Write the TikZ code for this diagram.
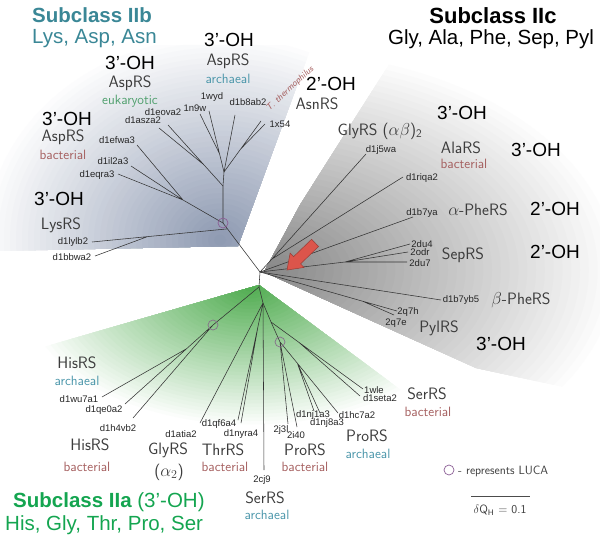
\documentclass[tikz,border=0pt]{standalone}
\usepackage{fontspec}
\newfontfamily\arialfont{Liberation Sans}
\usetikzlibrary{calc}
\definecolor{iibteal}{RGB}{58,135,150}
\definecolor{iiagreen}{RGB}{20,165,80}
\definecolor{bactred}{RGB}{165,95,95}
\definecolor{archblue}{RGB}{75,150,170}
\definecolor{eukgreen}{RGB}{80,160,110}
\definecolor{rsgray}{RGB}{60,60,60}
\definecolor{lucapurple}{RGB}{140,95,150}
\definecolor{shadeb}{RGB}{140,152,176}
\definecolor{shadec}{RGB}{135,135,135}
\definecolor{shadea}{RGB}{80,172,80}
\definecolor{arrowred}{RGB}{220,85,75}
\begin{document}
\begin{tikzpicture}[x=1pt,y=-1pt,
    twig/.style={line width=0.55pt, black!80},
    leaf/.style={font=\arialfont\fontsize{9.5}{10}\selectfont, text=black!85, inner sep=0pt},
    rs/.style={font=\sffamily\fontsize{16.5}{18}\selectfont, text=rsgray, inner sep=0pt},
    kind/.style={font=\sffamily\fontsize{13.5}{15}\selectfont, inner sep=0pt},
    oh/.style={font=\arialfont\fontsize{19}{20}\selectfont, inner sep=0pt},
    head/.style={font=\arialfont\fontsize{20.5}{22}\selectfont, inner sep=0pt},
    headbf/.style={font=\arialfont\bfseries\fontsize{20.5}{22}\selectfont, inner sep=0pt},
    luca/.style={circle, draw=lucapurple, line width=0.7pt, minimum size=10pt, inner sep=0pt}]
\useasboundingbox (0,0) rectangle (600,543);

\begin{scope}
  \clip (238,246) -- (312,45) -- (0,45) -- (0,251) -- cycle;
  \foreach \k in {40,39,...,1}{
    \pgfmathsetmacro\pc{100*(1-\k/40)}
    \fill[shadeb!\pc!white] (220,240) ellipse [x radius=\k*6pt, y radius=\k*5.2pt];
  }
\end{scope}
\begin{scope}
  \clip (264,272) -- (300,205) -- (393,58) -- (600,58) -- (600,395) -- (476,368) -- cycle;
  \foreach \k in {40,39,...,1}{
    \pgfmathsetmacro\pc{100*(1-\k/40)}
    \fill[shadec!\pc!white] (272,270) ellipse [x radius=\k*8.8pt, y radius=\k*5.6pt];
  }
\end{scope}
\begin{scope}
  \clip (259,285) -- (405,393) -- (300,470) -- (5,470) -- (5,358) -- cycle;
  \foreach \k in {40,39,...,1}{
    \pgfmathsetmacro\pc{100*(1-\k/40)}
    \fill[shadea!\pc!white] (250,288) ellipse [x radius=\k*5.8pt, y radius=\k*3.5pt];
  }
\end{scope}

\coordinate (root) at (260,272);
\coordinate (aroot) at (259,287);
\coordinate (bC) at (223,223);
\coordinate (bK) at ($(root)!0.88!(bC)$);
\coordinate (bBac) at (183,200);
\coordinate (bN1) at (223,186);
\coordinate (bN2) at (224,172);
\coordinate (lylb2) at (92,242);
\coordinate (bbwa2) at (95,256);
\coordinate (efwa3) at (137,145);
\coordinate (il2a3) at (131,166);
\coordinate (eqra3) at (118,174);
\coordinate (eova2) at (168,125);
\coordinate (asza2) at (159,128);
\coordinate (n9w) at (200,114);
\coordinate (wyd) at (209,111);
\coordinate (b8ab2) at (235,115);
\coordinate (tth) at (261,121);
\coordinate (x54) at (265,124);

\coordinate (cG) at (272,259);
\coordinate (j5wa) at (366,154);
\coordinate (riqa2) at (403,177);
\coordinate (b7ya) at (413,217);
\coordinate (cS) at (345,262);
\coordinate (du4) at (410,244);
\coordinate (odr) at (408,252);
\coordinate (du7) at (407,262);
\coordinate (b7yb5) at (441,300);
\coordinate (q7h) at (397,311);
\coordinate (q7e) at (394,315);
\coordinate (cP) at ($(root)!0.75!(q7h)$);

\coordinate (aH) at (213,325);
\coordinate (wu7a1) at (102,397);
\coordinate (qe0a2) at (125,404);
\coordinate (h4vb2) at (133,418);
\coordinate (aH2) at ($(aH)!0.3!(qe0a2)$);
\coordinate (a1) at (263,303);
\coordinate (atia2) at (200,423);
\coordinate (qf6a4) at (238,420);
\coordinate (nyra4) at (241,423);
\coordinate (aT) at ($(a1)!0.2!(qf6a4)$);
\coordinate (cj9) at (264,470);
\coordinate (a2) at (271,322);
\coordinate (wle) at (363,389);
\coordinate (seta2) at (360,396);
\coordinate (aS) at ($(a2)!0.3!(wle)$);
\coordinate (aP) at (280,342);
\coordinate (j3l) at (288,424);
\coordinate (i40) at (297,427);
\coordinate (hc7a2) at (338,413);
\coordinate (nj1a3) at (314,411);
\coordinate (nj8a3) at (320,413);
\coordinate (aPa) at ($(aP)!0.3!(hc7a2)$);

\draw[twig] (aroot) -- (root) -- (bC) -- (bN1) -- (bN2);
\draw[twig] (bK) -- (lylb2) ($(bK)!0.59!(lylb2)$) -- (bbwa2);
\draw[twig] (bC) -- (bBac) -- (efwa3) (bBac) -- (il2a3) (bBac) -- (eqra3);
\draw[twig] (bN1) -- (eova2) ($(bN1)!0.35!(eova2)$) -- (asza2);
\draw[twig] (bN2) -- (wyd) ($(bN2)!0.3!(wyd)$) -- (n9w);
\draw[twig] (bN2) -- (b8ab2) (bN2) -- (tth) ($(bN2)!0.45!(tth)$) -- (x54);
\draw[twig] (root) -- (cG) -- (j5wa) (cG) -- (riqa2);
\draw[twig] (root) -- (b7ya) (root) -- (b7yb5);
\draw[twig] (root) -- (cS) -- (du4) (cS) -- (odr) (cS) -- (du7);
\draw[twig] (root) -- (q7h) (cP) -- (q7e);
\draw[twig] (aroot) -- (aH) -- (h4vb2) (aH) -- (aH2) -- (wu7a1) (aH2) -- (qe0a2);
\draw[twig] (aroot) -- (a1) -- (atia2) (a1) -- (cj9) (a1) -- (aT) -- (qf6a4) (aT) -- (nyra4);
\draw[twig] (a1) -- (a2) -- (aS) -- (wle) (aS) -- (seta2);
\draw[twig] (a2) -- (aP) -- (j3l) (aP) -- (i40) (aP) -- (aPa) -- (hc7a2) (aPa) -- (nj1a3) (aPa) -- (nj8a3);

\begin{scope}[shift={(287,270)}, rotate=224]
  \draw[fill=arrowred, draw=arrowred!70!black, line width=0.5pt] (0,0) -- (-14,-10) -- (-14,-5) -- (-39,-5) -- (-39,5) -- (-14,5) -- (-14,10) -- cycle;
\end{scope}

\node[luca] (lucab) at (bC) {};
\node[luca, draw=lucapurple!50!gray] (lucah) at (aH) {};
\node[luca, draw=lucapurple!50!gray] (lucap) at (aP) {};

\node[leaf] (Teova2) at (163,112) {d1eova2};
\node[leaf] (Tasza2) at (143,120) {d1asza2};
\node[leaf] (Tefwa3) at (117,140) {d1efwa3};
\node[leaf] (Til2a3) at (113,161) {d1il2a3};
\node[leaf] (Teqra3) at (97,175) {d1eqra3};
\node[leaf] (Tn9w) at (195,108) {1n9w};
\node[leaf] (Twyd) at (212,97) {1wyd};
\node[leaf] (Tb8ab2) at (248,102) {d1b8ab2};
\node[leaf] (Tx54) at (280,124) {1x54};
\node[leaf] (Tlylb2) at (73,242) {d1lylb2};
\node[leaf] (Tbbwa2) at (72,257) {d1bbwa2};
\node[font=\sffamily\itshape\fontsize{9}{10}\selectfont, text=bactred, rotate=43, inner sep=0pt] (Ttth) at (290,89) {T. thermophilus};

\node[leaf] (Tj5wa) at (381,150) {d1j5wa};
\node[leaf] (Triqa2) at (422,178) {d1riqa2};
\node[leaf] (Tb7ya) at (422,213) {d1b7ya};
\node[leaf] (Tdu4) at (422,244) {2du4};
\node[leaf] (Todr) at (420,252) {2odr};
\node[leaf] (Tdu7) at (420,263) {2du7};
\node[leaf] (Tb7yb5) at (461,300) {d1b7yb5};
\node[leaf] (Tq7h) at (408,312) {2q7h};
\node[leaf] (Tq7e) at (396,323) {2q7e};

\node[leaf] (Twu7a1) at (79,399) {d1wu7a1};
\node[leaf] (Tqe0a2) at (104,410) {d1qe0a2};
\node[leaf] (Th4vb2) at (118,428) {d1h4vb2};
\node[leaf] (Tatia2) at (181,434) {d1atia2};
\node[leaf] (Tqf6a4) at (219,424) {d1qf6a4};
\node[leaf] (Tnyra4) at (241,434) {d1nyra4};
\node[leaf] (Tcj9) at (262,480) {2cj9};
\node[leaf] (Tj3l) at (281,430) {2j3l};
\node[leaf] (Ti40) at (296,435) {2i40};
\node[leaf] (Tnj1a3) at (313,415) {d1nj1a3};
\node[leaf] (Tnj8a3) at (327,423) {d1nj8a3};
\node[leaf] (Thc7a2) at (357,415) {d1hc7a2};
\node[leaf] (Twle) at (374,390) {1wle};
\node[leaf] (Tseta2) at (380,398) {d1seta2};

\node[headbf, text=iibteal, anchor=west] (headb) at (32,15) {Subclass IIb};
\node[head, text=iibteal, anchor=west] (listb) at (32,39) {Lys, Asp, Asn};
\node[headbf, font=\arialfont\bfseries\fontsize{22}{24}\selectfont] (headc) at (493,16) {Subclass IIc};
\node[head] (listc) at (491,39) {Gly, Ala, Phe, Sep, Pyl};
\node[head, text=iiagreen, anchor=west] (heada) at (13,502) {\bfseries Subclass IIa \mdseries(3’-OH)};
\node[head, text=iiagreen, anchor=west] (lista) at (5,525) {His, Gly, Thr, Pro, Ser};

\node[oh] (ohA) at (130,63) {3’-OH};
\node[oh] (ohB) at (229,40) {3’-OH};
\node[oh] (ohC) at (67,119) {3’-OH};
\node[oh] (ohD) at (59,199) {3’-OH};
\node[oh] (ohE) at (331,84) {2’-OH};
\node[oh] (ohF) at (462,113) {3’-OH};
\node[oh] (ohG) at (536,150) {3’-OH};
\node[oh] (ohH) at (555,209) {2’-OH};
\node[oh] (ohI) at (555,252) {2’-OH};
\node[oh] (ohJ) at (501,344) {3’-OH};

\node[rs] (aspE) at (130,83) {AspRS};
\node[kind, text=eukgreen] (kE) at (130,101) {eukaryotic};
\node[rs] (aspA) at (228,61) {AspRS};
\node[kind, text=archblue] (kA) at (228,79) {archaeal};
\node[rs] (aspB) at (63,137) {AspRS};
\node[kind, text=bactred] (kB) at (63,155) {bacterial};
\node[rs] (lys) at (61,225) {LysRS};
\node[rs] (asn) at (317,104) {AsnRS};
\node[rs] (glyab) at (380,131) {GlyRS ($\alpha\beta$)\textsubscript{2}};
\node[rs] (ala) at (461,148) {AlaRS};
\node[kind, text=bactred] (kAla) at (464,164) {bacterial};
\node[rs] (pheA) at (478,210) {$\alpha$-PheRS};
\node[rs] (sep) at (463,255) {SepRS};
\node[rs] (pheB) at (521,300) {$\beta$-PheRS};
\node[rs] (pyl) at (439,328) {PylRS};

\node[rs] (hisA) at (77,363) {HisRS};
\node[kind, text=archblue] (kHisA) at (77,381) {archaeal};
\node[rs] (hisB) at (90,445) {HisRS};
\node[kind, text=bactred] (kHisB) at (87,467) {bacterial};
\node[rs] (glya) at (168,450) {GlyRS};
\node[rs] (glyaa) at (169,472) {($\alpha_2$)};
\node[rs] (thr) at (223,450) {ThrRS};
\node[kind, text=bactred] (kThr) at (225,467) {bacterial};
\node[rs] (serA) at (265,498) {SerRS};
\node[kind, text=archblue] (kSerA) at (267,515) {archaeal};
\node[rs] (proB) at (305,450) {ProRS};
\node[kind, text=bactred] (kProB) at (305,467) {bacterial};
\node[rs] (proA) at (367,436) {ProRS};
\node[kind, text=archblue] (kProA) at (368,454) {archaeal};
\node[rs] (serB) at (427,394) {SerRS};
\node[kind, text=bactred] (kSerB) at (428,412) {bacterial};

\node[luca] (legcirc) at (449,470) {};
\node[font=\sffamily\fontsize{12}{13}\selectfont, text=rsgray, anchor=west, inner sep=0pt] (legtext) at (458,471) {- represents LUCA};
\coordinate (sbl) at (471,496);
\coordinate (sbr) at (530,496);
\draw[line width=0.6pt, black!70] (sbl) -- (sbr);
\node[font=\sffamily\fontsize{12}{13}\selectfont, text=rsgray, inner sep=0pt] (sblab) at (500,510) {$\delta$Q\textsubscript{H} = 0.1};
\end{tikzpicture}
\end{document}
